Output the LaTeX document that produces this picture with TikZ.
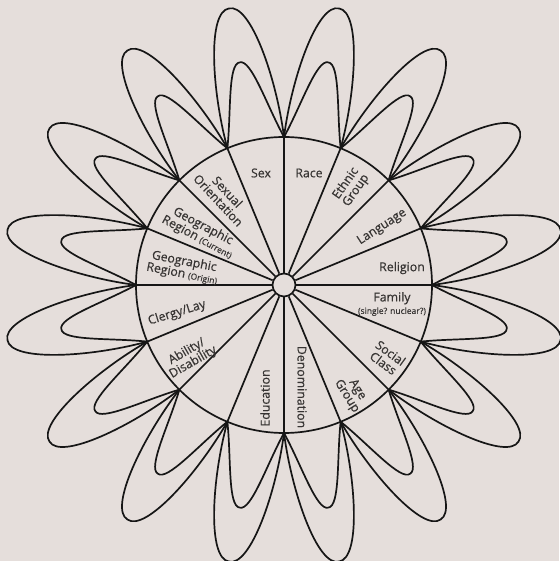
\documentclass[tikz,border=0pt]{standalone}
\usepackage{fontspec}
\setmainfont{Open Sans}[FakeBold=0.5]
\usetikzlibrary{positioning}
\definecolor{paper}{RGB}{229,222,219}
\definecolor{ink}{RGB}{22,22,22}
\definecolor{labelgray}{RGB}{55,52,51}
\newcommand\subnote[1]{{\fontsize{8.5}{9}\selectfont #1}}
\tikzset{
  wheel-line/.style={draw=ink, line width=1.7pt},
  petal-line/.style={draw=ink, line width=1.7pt, line join=round},
  hub-node/.style={circle, draw=ink, line width=1.7pt, fill=paper, minimum size=23pt, inner sep=0pt},
  wedge-label/.style={font=\fontsize{12.3}{12.5}\selectfont, text=labelgray, align=center, inner sep=0pt}
}

\begin{document}
\begin{tikzpicture}[x=1pt, y=1pt]
  \fill[paper] (-284,-276) rectangle (275,285);
  \useasboundingbox (-284,-276) rectangle (275,285);

  % rim points
  \foreach \i in {0,...,15}
    \coordinate (p\i) at (\i*22.5:148);

  % petals, an outer and an inner loop between each pair of rim points
  \foreach \i [evaluate=\i as \j using {int(mod(\i+1,16))}] in {0,...,15}{
    \begin{scope}[rotate=\i*22.5+11.25]
      \draw[petal-line] (p\i) .. controls (205,-33) and (283,-22) .. (282,0) .. controls (283,22) and (205,33) .. (p\j);
      \draw[petal-line] (p\i) .. controls (180,-18) and (228,-12) .. (227,0) .. controls (228,12) and (180,18) .. (p\j);
    \end{scope}
  }

  % rim and spokes
  \draw[wheel-line, fill=paper] (0,0) circle (148);
  \node[hub-node] (hub) at (0,0) {};
  \foreach \i in {0,...,15}
    \draw[wheel-line] (hub) -- (p\i);

  % wedge labels
  \node[wedge-label] (sex) at (-23,112) {Sex};
  \node[wedge-label] (race) at (25,112) {Race};
  \node[wedge-label, rotate=55] (ethnic) at (67,98) {Ethnic\\Group};
  \node[wedge-label, rotate=33] (language) at (98,58) {Language};
  \node[wedge-label] (religion) at (118,17) {Religion};
  \node[wedge-label] (family) at (108,-19) {Family\\\subnote{(single? nuclear?)}};
  \node[wedge-label, rotate=-36] (social) at (103,-73) {Social\\Class};
  \node[wedge-label, rotate=-58] (age) at (68,-108) {Age\\Group};
  \node[wedge-label, rotate=-90] (denom) at (18,-102) {Denomination};
  \node[wedge-label, rotate=90] (education) at (-19,-113) {Education};
  \node[wedge-label, rotate=30] (ability) at (-94,-72) {Ability/\\Disability};
  \node[wedge-label, rotate=17] (clergy) at (-107,-28) {Clergy/Lay};
  \node[wedge-label, rotate=-11] (georigin) at (-101,17) {Geographic\\Region \subnote{(Origin)}};
  \node[wedge-label, rotate=-28] (geocurrent) at (-84,53) {Geographic\\Region \subnote{(Current)}};
  \node[wedge-label, rotate=-47] (sexorient) at (-61,89) {Sexual\\Orientation};
\end{tikzpicture}
\end{document}
